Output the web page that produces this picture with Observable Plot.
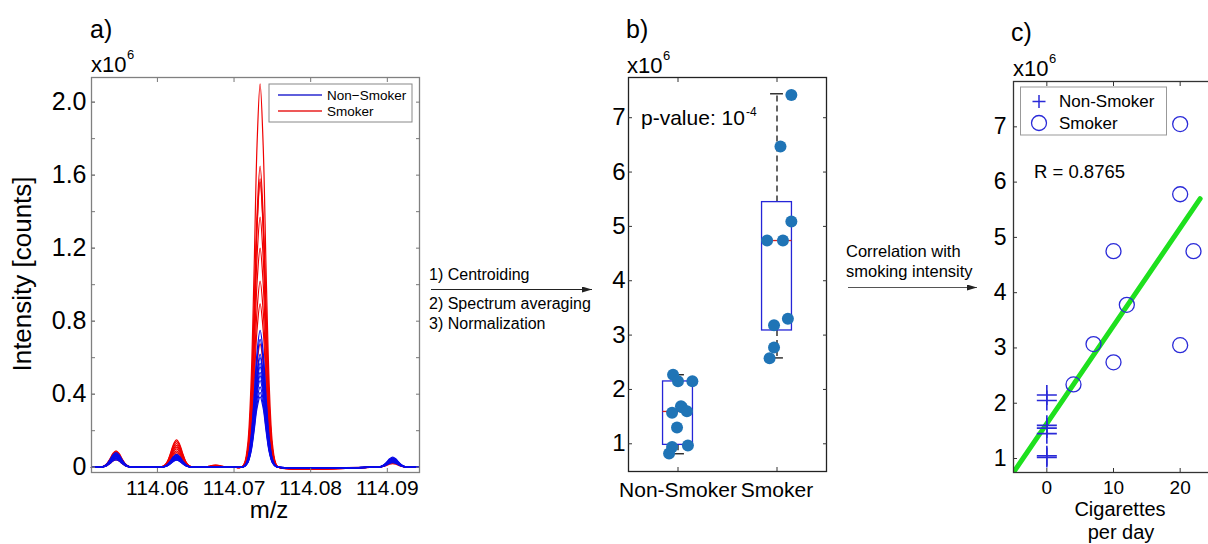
<!DOCTYPE html>
<html><head><meta charset="utf-8">
<script src="https://cdn.jsdelivr.net/npm/d3@7"></script>
<script src="https://cdn.jsdelivr.net/npm/@observablehq/plot@0.6"></script>
<style>
body{margin:0;background:#fff;overflow:hidden}
#root{position:relative;width:1208px;height:544px;overflow:hidden;font-family:"Liberation Sans",Arial,sans-serif;background:#fff}
#root > svg{position:absolute;top:0}
</style></head><body><div id="root"></div>
<script>
// ---------- Panel a data: mass spectra ----------
const mzRange = [114.0514, 114.0942];
const peakCenters = [114.0546, 114.0625, 114.0676, 114.0734, 114.0907];
const profileOffsets = [-0.0024, -0.002, -0.0016, -0.0012, -0.0008, -0.0004, 0, 0.0004, 0.0008, 0.0012, 0.0016, 0.002, 0.0024];
const profileShape = [0, 0.013, 0.063, 0.21, 0.5, 0.84, 1, 0.84, 0.5, 0.21, 0.063, 0.013, 0];
// peak heights (x10^6 counts), one entry per spectrum
const smokerPeak1 = [0.09, 0.08, 0.085, 0.07, 0.075, 0.06, 0.065, 0.05, 0.04];
const smokerPeak2 = [0.15, 0.14, 0.13, 0.12, 0.11, 0.10, 0.09, 0.08, 0.07];
const smokerPeak3 = [0.012, 0.01, 0.01, 0.008, 0.008, 0.006, 0.006, 0.005, 0.004];
const smokerPeak4 = [2.10, 1.65, 1.58, 1.56, 1.37, 1.20, 1.02, 0.895, 0.676];
const smokerPeak5 = [0.04, 0.035, 0.04, 0.03, 0.035, 0.03, 0.025, 0.03, 0.02];
const nonSmokerPeak1 = [0.08, 0.075, 0.07, 0.068, 0.065, 0.06, 0.058, 0.055, 0.05, 0.048, 0.045, 0.04];
const nonSmokerPeak2 = [0.07, 0.065, 0.06, 0.058, 0.055, 0.052, 0.05, 0.048, 0.045, 0.042, 0.04, 0.038];
const nonSmokerPeak3 = [0.002, 0.002, 0.002, 0.002, 0.002, 0.002, 0.002, 0.002, 0.002, 0.002, 0.002, 0.002];
const nonSmokerPeak4 = [0.75, 0.70, 0.62, 0.60, 0.57, 0.55, 0.52, 0.50, 0.475, 0.44, 0.41, 0.385];
const nonSmokerPeak5 = [0.055, 0.05, 0.048, 0.045, 0.042, 0.04, 0.038, 0.035, 0.032, 0.03, 0.028, 0.025];
const xTicksA = [114.06, 114.07, 114.08, 114.09];
const yTicksA = [0, 0.4, 0.8, 1.2, 1.6, 2.0];
const yMinorA = [0, 0.2, 0.4, 0.6, 0.8, 1.0, 1.2, 1.4, 1.6, 1.8, 2.0];

// ---------- Panel b data: boxplot ----------
const groups = ["Non-Smoker", "Smoker"];
const boxQ1 = [0.98, 3.085];
const boxQ3 = [2.147, 5.447];
const boxMedian = [1.595, 4.74];
const whiskerLow = [0.816, 2.58];
const whiskerHigh = [2.27, 7.44];
const nonSmokerValues = [2.27, 2.15, 2.15, 1.69, 1.67, 1.6, 1.57, 1.3, 0.97, 0.94, 0.82];
const nonSmokerJitter = [-0.05, 0, 0.145, 0.03, 0.04, 0.09, -0.06, -0.01, 0.1, -0.06, -0.09];
const smokerValues = [7.42, 6.47, 5.09, 4.74, 4.74, 3.30, 3.18, 2.77, 2.575];
const smokerJitter = [0.145, 0.035, 0.145, -0.1, 0.06, 0.11, -0.03, -0.03, -0.075];
const yTicksB = [1, 2, 3, 4, 5, 6, 7];

// ---------- Panel c data: correlation ----------
const smokerCigarettes = [20, 20, 10, 22, 12, 7, 10, 20, 4];
const smokerIntensity = [7.05, 5.78, 4.75, 4.75, 3.78, 3.07, 2.74, 3.05, 2.34];
const nonSmokerCigarettes = [0, 0, 0, 0, 0, 0, 0];
const nonSmokerIntensity = [2.15, 2.05, 1.6, 1.55, 1.45, 1.05, 1.02];
const fitCigarettes = [-5, 23];
const fitIntensity = [0.75, 5.7];
const xTicksC = [0, 10, 20];
const yTicksC = [1, 2, 3, 4, 5, 6, 7];

const FONT = '"Liberation Sans", Arial, sans-serif';
const root = document.getElementById("root");

function spectra(group, peaks) {
  const rows = [];
  const n = peaks[0].length;
  for (let i = 0; i < n; i++) {
    const id = group + i;
    rows.push({id, mz: mzRange[0], v: 0});
    peakCenters.forEach((c, j) => {
      profileOffsets.forEach((o, k) => rows.push({id, mz: c + o, v: peaks[j][i] * profileShape[k]}));
    });
    rows.push({id, mz: mzRange[1], v: 0});
  }
  return rows;
}
const smokerRows = spectra("s", [smokerPeak1, smokerPeak2, smokerPeak3, smokerPeak4, smokerPeak5]);
const nonSmokerRows = spectra("n", [nonSmokerPeak1, nonSmokerPeak2, nonSmokerPeak3, nonSmokerPeak4, nonSmokerPeak5]);

const blank = () => "";
const plain = d => String(d);

// ---------- Panel a ----------
const plotA = Plot.plot({
  width: 430, height: 544,
  marginLeft: 91, marginRight: 11, marginTop: 77, marginBottom: 72,
  style: {fontFamily: FONT, background: "transparent", color: "#000"},
  x: {domain: mzRange},
  y: {domain: [-0.029, 2.135]},
  marks: [
    Plot.line(smokerRows, {x: "mz", y: "v", z: "id", stroke: "#f00000", strokeWidth: 1.2, curve: "catmull-rom"}),
    Plot.line(nonSmokerRows, {x: "mz", y: "v", z: "id", stroke: "#0a0ae8", strokeWidth: 1.2, curve: "catmull-rom"}),
    Plot.frame({stroke: "#808080", strokeWidth: 1.3}),
    Plot.axisY(yMinorA, {anchor: "left", tickSize: -4, stroke: "#777", tickFormat: blank, label: null}),
    Plot.axisY(yMinorA, {anchor: "right", tickSize: -4, stroke: "#777", tickFormat: blank, label: null}),
    Plot.axisY(yTicksA, {anchor: "left", tickSize: -4, tickPadding: 9, stroke: "#777", fontSize: 25, tickFormat: d => d === 0 ? "0" : d.toFixed(1), label: null}),
    Plot.axisX(xTicksA, {anchor: "bottom", tickSize: -4, tickPadding: 12, stroke: "#777", fontSize: 21, tickFormat: d => d.toFixed(2), label: null}),
    Plot.axisX(xTicksA, {anchor: "top", tickSize: -4, stroke: "#777", tickFormat: blank, label: null})
  ]
});
plotA.style.left = "0px";
root.appendChild(plotA);

// ---------- Panel b ----------
const idx = [0, 1];
const pos = i => i + 1;
const nsPts = nonSmokerValues.map((v, i) => ({x: 1 + nonSmokerJitter[i], y: v}));
const sPts = smokerValues.map((v, i) => ({x: 2 + smokerJitter[i], y: v}));
const plotB = Plot.plot({
  width: 280, height: 544,
  marginLeft: 68, marginRight: 14, marginTop: 77, marginBottom: 73,
  style: {fontFamily: FONT, background: "transparent", color: "#000"},
  x: {domain: [0.5, 2.5]},
  y: {domain: [0.49, 7.74]},
  marks: [
    Plot.ruleX(idx, {x: pos, y1: i => boxQ3[i], y2: i => whiskerHigh[i], stroke: "#000", strokeWidth: 1.2, strokeDasharray: "6,4"}),
    Plot.ruleX(idx, {x: pos, y1: i => boxQ1[i], y2: i => whiskerLow[i], stroke: "#000", strokeWidth: 1.2, strokeDasharray: "6,4"}),
    Plot.ruleY(idx, {y: i => whiskerHigh[i], x1: i => pos(i) - 0.065, x2: i => pos(i) + 0.065, stroke: "#000", strokeWidth: 1.2}),
    Plot.ruleY(idx, {y: i => whiskerLow[i], x1: i => pos(i) - 0.065, x2: i => pos(i) + 0.065, stroke: "#000", strokeWidth: 1.2}),
    Plot.rect(idx, {x1: i => pos(i) - 0.151, x2: i => pos(i) + 0.151, y1: i => boxQ1[i], y2: i => boxQ3[i], stroke: "#2525d8", strokeWidth: 1.3, fill: "none"}),
    Plot.ruleY(idx, {y: i => boxMedian[i], x1: i => pos(i) - 0.151, x2: i => pos(i) + 0.151, stroke: "#d42020", strokeWidth: 1.3}),
    Plot.dot(nsPts, {x: "x", y: "y", r: 6, fill: "#1f74b6"}),
    Plot.dot(sPts, {x: "x", y: "y", r: 6, fill: "#1f74b6"}),
    Plot.frame({stroke: "#222", strokeWidth: 1.3}),
    Plot.axisY(yTicksB, {anchor: "left", tickSize: -4, tickPadding: 7, stroke: "#333", fontSize: 24, tickFormat: plain, label: null}),
    Plot.axisY(yTicksB, {anchor: "right", tickSize: -4, stroke: "#333", tickFormat: blank, label: null}),
    Plot.axisX([1, 2], {anchor: "bottom", tickSize: -4, tickPadding: 15, stroke: "#333", fontSize: 21, tickFormat: d => groups[d - 1], label: null}),
    Plot.axisX([1, 2], {anchor: "top", tickSize: -4, stroke: "#333", tickFormat: blank, label: null})
  ]
});
plotB.style.left = "560px";
root.appendChild(plotB);

// ---------- Panel c ----------
const fitRows = fitCigarettes.map((c, i) => ({c, v: fitIntensity[i]}));
const nsC = nonSmokerCigarettes.map((c, i) => ({c, v: nonSmokerIntensity[i]}));
const sC = smokerCigarettes.map((c, i) => ({c, v: smokerIntensity[i]}));
const plotC = Plot.plot({
  width: 260, height: 544,
  marginLeft: 53, marginRight: 7, marginTop: 81, marginBottom: 72,
  style: {fontFamily: FONT, background: "transparent", color: "#000"},
  x: {domain: [-5, 25]},
  y: {domain: [0.747, 7.82]},
  marks: [
    Plot.line(fitRows, {x: "c", y: "v", stroke: "#1ee01e", strokeWidth: 5, clip: true}),
    Plot.dot(nsC, {x: "c", y: "v", symbol: "plus", r: 6.5, stroke: "#2a2ad8", strokeWidth: 1.6}),
    Plot.dot(sC, {x: "c", y: "v", symbol: "circle", r: 7.5, stroke: "#2a2ad8", strokeWidth: 1.3, fill: "none"}),
    Plot.frame({stroke: "#333", strokeWidth: 1.3}),
    Plot.axisY(yTicksC, {anchor: "left", tickSize: -4, tickPadding: 11, stroke: "#333", fontSize: 23, tickFormat: plain, label: null}),
    Plot.axisX(xTicksC, {anchor: "bottom", tickSize: -4, tickPadding: 12, stroke: "#333", fontSize: 19, tickFormat: plain, label: null}),
    Plot.axisX(xTicksC, {anchor: "top", tickSize: -4, stroke: "#333", tickFormat: blank, label: null})
  ]
});
plotC.style.left = "960px";
root.appendChild(plotC);

// ---------- Annotations overlay ----------
const NS = "http://www.w3.org/2000/svg";
const ov = document.createElementNS(NS, "svg");
ov.setAttribute("width", 1208); ov.setAttribute("height", 544);
ov.style.left = "0px"; ov.style.fontFamily = FONT;
root.appendChild(ov);
function el(tag, attrs, text) {
  const e = document.createElementNS(NS, tag);
  for (const k in attrs) e.setAttribute(k, attrs[k]);
  if (text != null) e.textContent = text;
  ov.appendChild(e);
  return e;
}
el("defs", {}).innerHTML = '<marker id="ah" viewBox="0 0 10 6" refX="10" refY="3" markerWidth="10" markerHeight="6" markerUnits="userSpaceOnUse" orient="auto"><path d="M0,0L10,3L0,6z" fill="#222"/></marker>';

// panel titles
el("text", {x: 90, y: 38, "font-size": 25}, "a)");
el("text", {x: 626, y: 38, "font-size": 25}, "b)");
el("text", {x: 1011, y: 41, "font-size": 25}, "c)");
// x10^6 exponents
[[91, 72], [627, 73], [1013, 76]].forEach(([x, y]) => {
  el("text", {x, y, "font-size": 22}, "x10");
  el("text", {x: x + 36, y: y - 13, "font-size": 13}, "6");
});
// panel a labels
el("text", {transform: "translate(31,274) rotate(-90)", "text-anchor": "middle", "font-size": 26}, "Intensity [counts]");
el("text", {x: 269, y: 518, "text-anchor": "middle", "font-size": 24}, "m/z");
// panel a legend
el("rect", {x: 269, y: 84, width: 143, height: 38, fill: "#fff", stroke: "#888", "stroke-width": 1});
el("line", {x1: 278, x2: 322, y1: 95, y2: 95, stroke: "#2a2ad0", "stroke-width": 1.3});
el("line", {x1: 278, x2: 322, y1: 111, y2: 111, stroke: "#e82020", "stroke-width": 1.3});
el("text", {x: 327, y: 100, "font-size": 13.5}, "Non\u2212Smoker");
el("text", {x: 327, y: 116, "font-size": 13.5}, "Smoker");
// arrow 1
el("line", {x1: 431, x2: 592, y1: 289.5, y2: 289.5, stroke: "#222", "stroke-width": 1, "marker-end": "url(#ah)"});
el("text", {x: 429, y: 280, "font-size": 16}, "1) Centroiding");
el("text", {x: 429, y: 309, "font-size": 16}, "2) Spectrum averaging");
el("text", {x: 429, y: 329, "font-size": 16}, "3) Normalization");
// panel b p-value
el("text", {x: 641, y: 125, "font-size": 21}, "p-value: 10");
el("text", {x: 746, y: 116, "font-size": 12}, "-4");
// arrow 2
el("line", {x1: 848, x2: 977, y1: 287.5, y2: 287.5, stroke: "#555", "stroke-width": 1, "marker-end": "url(#ah)"});
el("text", {x: 846, y: 257, "font-size": 16.5}, "Correlation with");
el("text", {x: 846, y: 277, "font-size": 16.5}, "smoking intensity");
// panel c legend
el("rect", {x: 1020.5, y: 87, width: 146, height: 48, fill: "#fff", stroke: "#999", "stroke-width": 1});
el("path", {d: "M1032.5,101.5h13M1039,95v13", stroke: "#2a2ad8", "stroke-width": 1.5, fill: "none"});
el("circle", {cx: 1039, cy: 123, r: 7.5, stroke: "#2a2ad8", "stroke-width": 1.3, fill: "none"});
el("text", {x: 1059, y: 107, "font-size": 17}, "Non-Smoker");
el("text", {x: 1059, y: 129, "font-size": 17}, "Smoker");
el("text", {x: 1034, y: 178, "font-size": 18.5}, "R = 0.8765");
// panel c x label
el("text", {x: 1120, y: 516, "text-anchor": "middle", "font-size": 20}, "Cigarettes");
el("text", {x: 1121, y: 539, "text-anchor": "middle", "font-size": 20}, "per day");
</script></body></html>
